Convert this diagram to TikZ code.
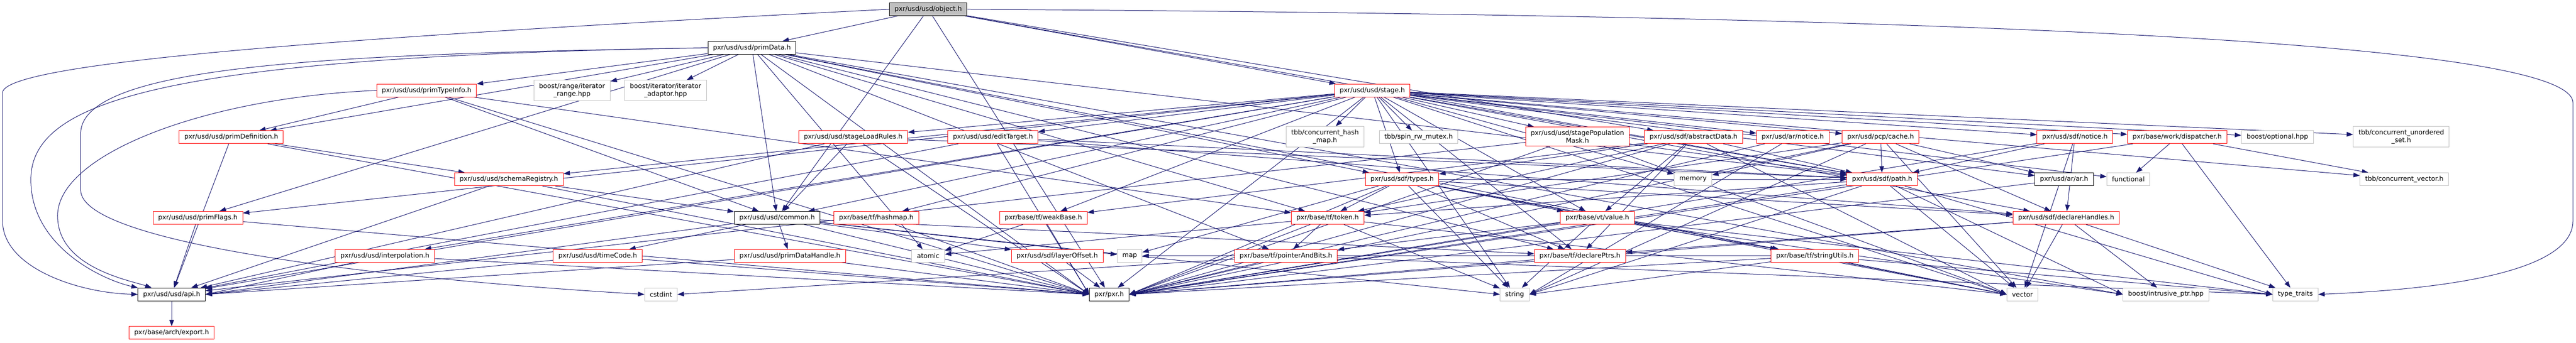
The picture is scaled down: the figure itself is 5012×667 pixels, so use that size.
\documentclass[tikz,border=0pt]{standalone}
\usepackage{fontspec}
\setmainfont{DejaVu Sans}
\usetikzlibrary{arrows.meta,backgrounds}
\definecolor{edgeblue}{HTML}{191970}
\definecolor{boxred}{HTML}{FF0000}
\definecolor{boxgray}{HTML}{BFBFBF}

\begin{document}
\begin{tikzpicture}[x=1pt,y=-1pt,
  file/.style={draw,fill=white,line width=1pt,font=\fontsize{12.75pt}{15pt}\selectfont,
    minimum height=25pt,inner xsep=10pt,inner ysep=6pt,align=center},
  trunc/.style={file,draw=boxred},
  ext/.style={file,draw=boxgray},
  full/.style={file,draw=black},
  root/.style={file,draw=black,fill=boxgray},
  dep/.style={draw=edgeblue,line width=1pt,-{Triangle[length=12.5pt,width=9pt]}}]
\useasboundingbox (0,0) rectangle (5012,667);

% rank 0 and 1
\node[root] (object) at (1806,18) {pxr/usd/usd/object.h};
\node[full] (primData) at (1463,93) {pxr/usd/usd/primData.h};
% rank 2
\node[trunc] (primTypeInfo) at (830,176) {pxr/usd/usd/primTypeInfo.h};
\node[ext] (iterRange) at (1113,176) {boost/range/iterator\\\_range.hpp};
\node[ext] (iterAdaptor) at (1295,176) {boost/iterator/iterator\\\_adaptor.hpp};
\node[trunc] (stage) at (2670,176) {pxr/usd/usd/stage.h};
% rank 3
\node[trunc] (primDef) at (450,267) {pxr/usd/usd/primDefinition.h};
\node[trunc] (loadRules) at (1660,267) {pxr/usd/usd/stageLoadRules.h};
\node[trunc] (editTarget) at (1932,267) {pxr/usd/usd/editTarget.h};
\node[ext] (hashMapTbb) at (2578,266) {tbb/concurrent\_hash\\\_map.h};
\node[ext] (spinMutex) at (2760,267) {tbb/spin\_rw\_mutex.h};
\node[trunc] (popMask) at (3069,266) {pxr/usd/usd/stagePopulation\\Mask.h};
\node[trunc] (abstractData) at (3295,267) {pxr/usd/sdf/abstractData.h};
\node[trunc] (arNotice) at (3488,267) {pxr/usd/ar/notice.h};
\node[trunc] (pcpCache) at (3659,267) {pxr/usd/pcp/cache.h};
\node[trunc] (sdfNotice) at (4037,267) {pxr/usd/sdf/notice.h};
\node[trunc] (dispatcher) at (4236,267) {pxr/base/work/dispatcher.h};
\node[ext] (optional) at (4431,267) {boost/optional.hpp};
\node[ext] (unorderedSet) at (4672,266) {tbb/concurrent\_unordered\\\_set.h};
% rank 4
\node[trunc] (schemaReg) at (990,349) {pxr/usd/usd/schemaRegistry.h};
\node[trunc] (sdfTypes) at (2728,349) {pxr/usd/sdf/types.h};
\node[ext] (memory) at (3294,349) {memory};
\node[trunc] (sdfPath) at (3662,349) {pxr/usd/sdf/path.h};
\node[full] (arAr) at (4016,349) {pxr/usd/ar/ar.h};
\node[ext] (functional) at (4141,349) {functional};
\node[ext] (concVector) at (4678,349) {tbb/concurrent\_vector.h};
% rank 5
\node[trunc] (primFlags) at (385,424) {pxr/usd/usd/primFlags.h};
\node[full] (common) at (1512,424) {pxr/usd/usd/common.h};
\node[trunc] (hashmap) at (1705,424) {pxr/base/tf/hashmap.h};
\node[trunc] (weakBase) at (2030,424) {pxr/base/tf/weakBase.h};
\node[trunc] (token) at (2583,424) {pxr/base/tf/token.h};
\node[trunc] (value) at (3108,424) {pxr/base/vt/value.h};
\node[trunc] (declHandles) at (4020,424) {pxr/usd/sdf/declareHandles.h};
% rank 6
\node[trunc] (interp) at (749,498) {pxr/usd/usd/interpolation.h};
\node[trunc] (timeCode) at (1163,498) {pxr/usd/usd/timeCode.h};
\node[trunc] (primDataHandle) at (1537,498) {pxr/usd/usd/primDataHandle.h};
\node[ext] (atomic) at (1806,498) {atomic};
\node[trunc] (layerOffset) at (2057,498) {pxr/usd/sdf/layerOffset.h};
\node[ext] (map) at (2198,498) {map};
\node[trunc] (ptrAndBits) at (2502,498) {pxr/base/tf/pointerAndBits.h};
\node[trunc] (declPtrs) at (3074,498) {pxr/base/tf/declarePtrs.h};
\node[trunc] (stringUtils) at (3531,498) {pxr/base/tf/stringUtils.h};
% rank 7 and 8
\node[full] (api) at (334,573) {pxr/usd/usd/api.h};
\node[ext] (cstdint) at (1286,573) {cstdint};
\node[full] (pxr) at (2158,573) {pxr/pxr.h};
\node[ext] (string) at (2947,573) {string};
\node[ext] (vector) at (3935,573) {vector};
\node[ext] (intrusive) at (4214,573) {boost/intrusive\_ptr.hpp};
\node[ext] (typeTraits) at (4466,573) {type\_traits};
\node[trunc] (export) at (334,648) {pxr/base/arch/export.h};

\begin{scope}[on background layer]
% object.h
\path (object) edge[dep] (primData) edge[dep] (stage) edge[dep] (abstractData)
  edge[dep] (sdfPath) edge[dep] (common) edge[dep] (pxr);
\draw[dep] (object.west) .. controls (700,70) and (10,120) .. (5,180) -- (5,430)
  .. controls (5,520) and (150,570) .. (api.west);
\draw[dep] (object.east) .. controls (3800,30) and (5006,80) .. (5006,200) -- (5006,430)
  .. controls (5006,540) and (4700,565) .. (typeTraits.east);
% primData.h
\path (primData) edge[dep] (common) edge[dep] (primFlags) edge[dep] (primDef)
  edge[dep] (primTypeInfo) edge[dep] (sdfTypes) edge[dep] (declPtrs) edge[dep] (ptrAndBits)
  edge[dep] (token) edge[dep] (sdfPath) edge[dep] (iterRange) edge[dep] (iterAdaptor)
  edge[dep] (intrusive.west) edge[dep] (atomic) edge[dep] (vector.west) edge[dep] (pxr.west);
\draw[dep] (primData.west) .. controls (300,110) and (60,200) .. (60,350)
  .. controls (60,480) and (200,545) .. (api.north west);
\draw[dep] (primData.west) .. controls (700,105) and (157,120) .. (157,260) -- (157,370)
  .. controls (157,470) and (700,540) .. (cstdint.west);
% primTypeInfo.h
\path (primTypeInfo) edge[dep] (primDef) edge[dep] (token) edge[dep] (pxr.west) edge[dep] (common);
\draw[dep] (primTypeInfo.west) .. controls (400,190) and (112,300) .. (112,420)
  .. controls (112,520) and (250,545) .. (api);
% usd headers
\path (primDef) edge[dep] (api) edge[dep] (schemaReg) edge[dep] (pxr.west);
\path (schemaReg) edge[dep] (api) edge[dep] (common) edge[dep] (pxr.west);
\path (primFlags) edge[dep] (api) edge[dep] (pxr.west);
\path (interp) edge[dep] (api.east) edge[dep] (pxr.west);
\path (timeCode) edge[dep] (api.east) edge[dep] (pxr.west);
\path (common) edge[dep] (api.east) edge[dep] (timeCode) edge[dep] (primDataHandle)
  edge[dep] (layerOffset) edge[dep] (map) edge[dep] (string.west) edge[dep] (declPtrs)
  edge[dep] (pxr.west);
\path (primDataHandle) edge[dep] (api.east) edge[dep] (pxr.west);
\path (loadRules) edge[dep] (api) edge[dep] (common) edge[dep] (sdfPath) edge[dep] (pxr.west);
\path (editTarget) edge[dep] (api) edge[dep] (sdfPath) edge[dep] (declHandles) edge[dep] (pxr.west);
\path (popMask) edge[dep] (api) edge[dep] (sdfPath) edge[dep] (vector.west) edge[dep] (pxr.east);
% stage.h
\path (stage) edge[dep] (api) edge[dep] (common) edge[dep] (editTarget) edge[dep] (interp)
  edge[dep] (schemaReg) edge[dep] (loadRules) edge[dep] (popMask) edge[dep] (primFlags)
  edge[dep] (declHandles) edge[dep] (sdfNotice) edge[dep] (sdfPath) edge[dep] (sdfTypes)
  edge[dep] (arNotice) edge[dep] (pcpCache) edge[dep] (declPtrs) edge[dep] (hashmap)
  edge[dep] (weakBase) edge[dep] (value) edge[dep] (dispatcher) edge[dep] (optional)
  edge[dep] (concVector) edge[dep] (unorderedSet) edge[dep] (hashMapTbb) edge[dep] (spinMutex)
  edge[dep] (functional) edge[dep] (arAr) edge[dep] (string) edge[dep] (memory)
  edge[dep] (vector.west) edge[dep] (pxr);
% tf, vt, sdf, pcp, ar, work
\path (hashmap) edge[dep] (pxr.west);
\path (weakBase) edge[dep] (atomic) edge[dep] (pxr.west);
\path (layerOffset) edge[dep] (pxr);
\path (token) edge[dep] (ptrAndBits) edge[dep] (string) edge[dep] (atomic) edge[dep] (vector.west)
  edge[dep] (pxr.east);
\path (ptrAndBits) edge[dep] (cstdint.east) edge[dep] (typeTraits.west) edge[dep] (pxr.east);
\path (sdfTypes) edge[dep] (token) edge[dep] (declPtrs) edge[dep] (value) edge[dep] (string)
  edge[dep] (vector.west) edge[dep] (map) edge[dep] (declHandles) edge[dep] (sdfPath)
  edge[dep] (stringUtils) edge[dep] (pxr.east);
\path (value) edge[dep] (ptrAndBits) edge[dep] (string) edge[dep] (typeTraits.west)
  edge[dep] (intrusive.west) edge[dep] (stringUtils) edge[dep] (pxr.east);
\path (declPtrs) edge[dep] (pxr.east);
\path (abstractData) edge[dep] (sdfTypes) edge[dep] (value) edge[dep] (declPtrs)
  edge[dep] (weakBase) edge[dep] (token) edge[dep] (sdfPath) edge[dep] (vector.west)
  edge[dep] (pxr.east);
\path (arNotice) edge[dep] (string.east) edge[dep] (pxr.east);
\path (pcpCache) edge[dep] (sdfPath) edge[dep] (arAr) edge[dep] (declHandles) edge[dep] (token)
  edge[dep] (string.east) edge[dep] (vector) edge[dep] (memory) edge[dep] (pxr.east);
\path (sdfNotice) edge[dep] (sdfPath) edge[dep] (declHandles) edge[dep] (vector) edge[dep] (pxr.east);
\path (dispatcher) edge[dep] (functional) edge[dep] (concVector) edge[dep] (typeTraits)
  edge[dep] (pxr.east);
\path (sdfPath) edge[dep] (token) edge[dep] (string.east) edge[dep] (vector) edge[dep] (intrusive.west)
  edge[dep] (typeTraits.west) edge[dep] (pxr.east);
\path (arAr) edge[dep] (pxr.east);
\path (declHandles) edge[dep] (declPtrs) edge[dep] (intrusive) edge[dep] (vector)
  edge[dep] (typeTraits) edge[dep] (pxr.east);
\path (stringUtils) edge[dep] (string.east) edge[dep] (vector.west) edge[dep] (map)
  edge[dep] (typeTraits.west) edge[dep] (pxr.east);
\path (api) edge[dep] (export);
\end{scope}
\end{tikzpicture}
\end{document}
